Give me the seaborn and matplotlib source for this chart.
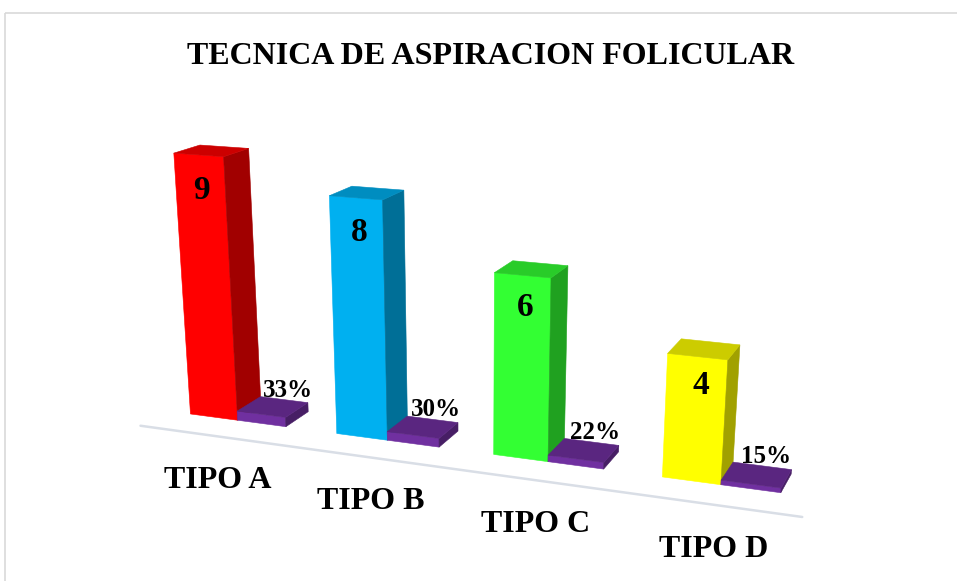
import numpy as np
import pandas as pd
import matplotlib
matplotlib.use("Agg")
import matplotlib.pyplot as plt
import matplotlib.transforms as mtransforms
from matplotlib.colors import to_rgb
from matplotlib.path import Path
from matplotlib.patches import Polygon, Rectangle
from matplotlib.lines import Line2D
import seaborn as sns

# ---- data -------------------------------------------------------------
tipos = ["TIPO A", "TIPO B", "TIPO C", "TIPO D"]
cantidades = [9, 8, 6, 4]
porcentajes = [0.33, 0.30, 0.22, 0.15]
colores_barra = ["#FF0000", "#00B0F0", "#33FF33", "#FFFF00"]
color_pct = "#7030A0"
titulo = "TECNICA DE ASPIRACION FOLICULAR"

# ---- canvas -----------------------------------------------------------
W, H, DPI = 957, 581, 100
sns.set_style("white")
plt.rcParams["font.family"] = ["Liberation Serif", "DejaVu Serif"]

# ---- 3-D view settings (rotation, tilt, perspective) --------------------
ROT_Y = np.radians(21.0)
ROT_X = np.radians(20.0)
DIST = 9.5
SCALE = 170.0
CX, CY = 475.5, 442.5
VALUE_SCALE = 0.179
N = len(tipos)
DEPTH = 0.30
Z_FRONT, Z_BACK = -DEPTH / 2, DEPTH / 2
Z_FLOOR = -0.45


def project(x, y, z):
    """Map (category position, value, depth) to image pixel coordinates."""
    x, y, z = np.broadcast_arrays(np.asarray(x, float), np.asarray(y, float),
                                  np.asarray(z, float))
    X = x - (N - 1) / 2
    Y = y * VALUE_SCALE
    xr = X * np.cos(ROT_Y) + z * np.sin(ROT_Y)
    zr = -X * np.sin(ROT_Y) + z * np.cos(ROT_Y)
    yt = Y * np.cos(ROT_X) + zr * np.sin(ROT_X)
    zt = -Y * np.sin(ROT_X) + zr * np.cos(ROT_X)
    s = SCALE * DIST / (DIST + zt)
    return CX + s * xr, CY - s * yt


class PlaneProjection(mtransforms.Transform):
    """Data (x, value) on the plane z = const -> image pixels."""
    input_dims = 2
    output_dims = 2
    is_separable = False
    has_inverse = False

    def __init__(self, z):
        super().__init__()
        self.z = z

    def transform_non_affine(self, values):
        v = np.asarray(values, float).reshape(-1, 2)
        px, py = project(v[:, 0], v[:, 1], self.z)
        return np.column_stack([px, py])

    def transform_path_non_affine(self, path):
        return Path(self.transform_non_affine(path.vertices), path.codes)


def shade(color, f):
    r, g, b = to_rgb(color)
    return (r * f, g * f, b * f)


fig = plt.figure(figsize=(W / DPI, H / DPI), dpi=DPI, facecolor="white")
# image pixels (y downwards) -> display
pix = mtransforms.Affine2D().scale(1 / DPI, -1 / DPI).translate(0, H / DPI) + fig.dpi_scale_trans

ax = fig.add_axes([0, 0, 1, 1])

df = pd.DataFrame({
    "tipo": tipos * 2,
    "serie": ["Cantidad"] * N + ["Porcentaje"] * N,
    "valor": cantidades + porcentajes,
})
sns.barplot(data=df, x="tipo", y="valor", hue="serie", order=tipos,
            hue_order=["Cantidad", "Porcentaje"], dodge=True, width=0.66, gap=0,
            palette=[colores_barra[0], color_pct], errorbar=None, legend=False,
            linewidth=0, ax=ax)
ax.set_axis_off()

front_tr = PlaneProjection(Z_FRONT) + pix
back_tr = PlaneProjection(Z_BACK) + pix
floor_tr = PlaneProjection(Z_FLOOR) + pix

# floor front edge
ax.add_line(Line2D([-0.5, N - 0.5], [0, 0], transform=floor_tr, color="#D9DEE6",
                   lw=1.8, zorder=1, clip_on=False))

# extrude every seaborn bar into a box: front face + right side + top
for i in range(N):
    for s, cont in enumerate(ax.containers):
        rect = cont[i]
        base = colores_barra[i] if s == 0 else color_pct
        order = 2 + i * 2 + s
        x0 = rect.get_x()
        x1 = x0 + rect.get_width()
        y0 = rect.get_y()
        y1 = y0 + rect.get_height()

        rect.set_facecolor(base)
        rect.set_edgecolor(base)
        rect.set_linewidth(0.4)
        rect.set_transform(front_tr)
        rect.set_clip_on(False)
        rect.set_zorder(order)

        sx, sy = project([x1, x1, x1, x1], [y0, y0, y1, y1],
                         [Z_FRONT, Z_BACK, Z_BACK, Z_FRONT])
        tx, ty = project([x0, x1, x1, x0], [y1, y1, y1, y1],
                         [Z_FRONT, Z_FRONT, Z_BACK, Z_BACK])
        for px, py, f in ((sx, sy, 0.63), (tx, ty, 0.80)):
            c = shade(base, f)
            ax.add_patch(Polygon(np.column_stack([px, py]), closed=True,
                                 facecolor=c, edgecolor=c, lw=0.4,
                                 transform=pix, zorder=order, clip_on=False))

# value labels inside the tall bars: centred on the front face,
# hung a fixed distance below the back edge of the top face
for i, rect in enumerate(ax.containers[0]):
    xc = rect.get_x() + rect.get_width() / 2
    fx, _ = project(xc, rect.get_height(), Z_FRONT)
    _, by = project(xc, rect.get_height(), Z_BACK)
    ax.annotate(str(cantidades[i]), xy=(float(fx), float(by)), xycoords=pix,
                xytext=(3, -44), textcoords="offset pixels", ha="center", va="center",
                fontsize=24, fontweight="bold", color="black", zorder=20,
                annotation_clip=False)

# percentage labels above the flat bars
for i, rect in enumerate(ax.containers[1]):
    xc = rect.get_x() + rect.get_width() / 2
    ax.annotate(f"{round(porcentajes[i] * 100)}%", xy=(xc, rect.get_height()),
                xycoords=back_tr, xytext=(4, 3), textcoords="offset pixels",
                ha="center", va="baseline", fontsize=18, fontweight="bold",
                color="black", zorder=20, annotation_clip=False)

# category labels along the floor
for i, t in enumerate(tipos):
    ax.annotate(t, xy=(i, 0), xycoords=floor_tr, xytext=(5, -45),
                textcoords="offset pixels", ha="center", va="center",
                fontsize=23, fontweight="bold", color="black", zorder=20,
                annotation_clip=False)

fig.text(491 / W, 1 - 56 / H, titulo, ha="center", va="center", fontsize=23,
         fontweight="bold", color="black")

# chart-area border
fig.add_artist(Rectangle((5, 13), 1200, 1200, transform=pix, fill=False,
                         edgecolor="#D9D9D9", lw=1.2))

fig.savefig("out.png", dpi=DPI, facecolor="white")
